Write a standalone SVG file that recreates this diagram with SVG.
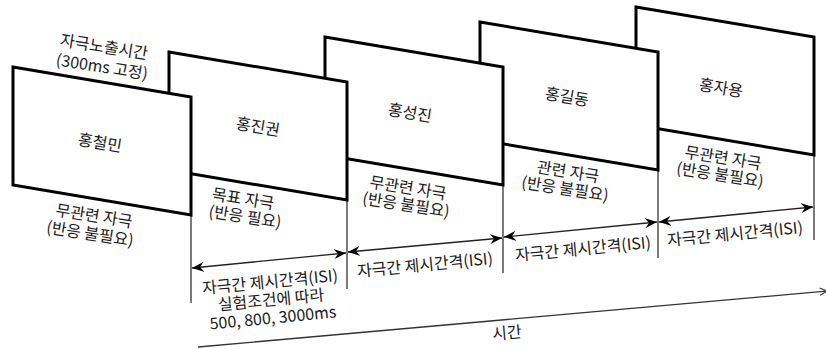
<svg xmlns="http://www.w3.org/2000/svg" xmlns:xlink="http://www.w3.org/1999/xlink" width="826" height="349" viewBox="0 0 826 349">
<defs>
<style>
.panel{fill:#fff;stroke:#000;stroke-width:3;stroke-linejoin:miter}
.t{font-family:"Noto Sans CJK KR","Noto Sans",sans-serif;font-size:16px;fill:#1a1a1a;text-anchor:middle}
.v{stroke:#333;stroke-width:1.3;fill:none}
.isi{stroke:#222;stroke-width:1.3;fill:none;marker-start:url(#ah);marker-end:url(#ah)}
.axis{stroke:#333;stroke-width:1.3;fill:none;marker-end:url(#open)}
</style>
<marker id="ah" viewBox="0 0 12 10" refX="12" refY="5" markerWidth="12" markerHeight="10" markerUnits="userSpaceOnUse" orient="auto-start-reverse">
<path d="M0,0 L12,5 L0,10 L4,5 Z" fill="#000"/>
</marker>
<marker id="open" viewBox="0 0 10 10" refX="9" refY="5" markerWidth="9" markerHeight="9" markerUnits="userSpaceOnUse" orient="auto">
<path d="M1,1 L9,5 L1,9" fill="none" stroke="#333" stroke-width="1.3"/>
</marker>
</defs>
<rect width="826" height="349" fill="#fff"/>

<g id="connectors">
<line class="v" x1="191" y1="215" x2="191" y2="303"/>
<line class="v" x1="347" y1="200" x2="347" y2="289"/>
<line class="v" x1="503" y1="185" x2="503" y2="273"/>
<line class="v" x1="658" y1="170" x2="658" y2="258"/>
<line class="v" x1="814" y1="155" x2="814" y2="240"/>
<line class="isi" x1="192" y1="268" x2="346" y2="253"/>
<line class="isi" x1="348" y1="252" x2="502" y2="238"/>
<line class="isi" x1="504" y1="237" x2="657" y2="222"/>
<line class="isi" x1="659" y1="222" x2="813" y2="207"/>
<line class="axis" x1="198" y1="347" x2="827" y2="291"/>
</g>

<g id="panel5">
<polygon class="panel" points="636,7 814,37 814,155 636,125"/>
<text class="t" transform="rotate(9.5 721 88)" x="721" y="93.5">홍자용</text>
</g>
<g id="panel4">
<polygon class="panel" points="480,22 658,52 658,170 480,140"/>
<text class="t" transform="rotate(9.5 567 97)" x="567" y="102.5">홍길동</text>
</g>
<g id="panel3">
<polygon class="panel" points="325,37 503,67 503,185 325,155"/>
<text class="t" transform="rotate(9.5 410 113)" x="410" y="118.5">홍성진</text>
</g>
<g id="panel2">
<polygon class="panel" points="169,52 347,82 347,200 169,170"/>
<text class="t" transform="rotate(9.5 258 127)" x="258" y="132.5">홍진권</text>
</g>
<g id="panel1">
<polygon class="panel" points="13,67 191,97 191,215 13,185"/>
<text class="t" transform="rotate(9.5 100 143)" x="100" y="148.5">홍철민</text>
</g>

<g id="labels">
<text class="t" transform="rotate(9 104 47)" x="104" y="52.5">자극노출시간</text>
<text class="t" transform="rotate(9 102 67)" x="102" y="72.5">(300ms 고정)</text>

<text class="t" transform="rotate(9 94 216)" x="94" y="221.5">무관련 자극</text>
<text class="t" transform="rotate(9 90 234)" x="90" y="239.5">(반응 불필요)</text>

<text class="t" transform="rotate(9 243 199)" x="243" y="204.5">목표 자극</text>
<text class="t" transform="rotate(9 245 217)" x="245" y="222.5">(반응 필요)</text>

<text class="t" transform="rotate(9 408 188)" x="408" y="193.5">무관련 자극</text>
<text class="t" transform="rotate(9 406 205)" x="406" y="210.5">(반응 불필요)</text>

<text class="t" transform="rotate(9 568 172)" x="568" y="177.5">관련 자극</text>
<text class="t" transform="rotate(9 565 189)" x="565" y="194.5">(반응 불필요)</text>

<text class="t" transform="rotate(9 723 158)" x="723" y="163.5">무관련 자극</text>
<text class="t" transform="rotate(9 720 175)" x="720" y="180.5">(반응 불필요)</text>

<text class="t" transform="rotate(-5.5 270 282)" x="270" y="287.5">자극간 제시간격(ISI)</text>
<text class="t" transform="rotate(-5.5 271 300)" x="271" y="305.5">실험조건에 따라</text>
<text class="t" transform="rotate(-5.5 273 318)" x="273" y="323.5">500, 800, 3000ms</text>

<text class="t" transform="rotate(-5.5 425 265)" x="425" y="270.5">자극간 제시간격(ISI)</text>
<text class="t" transform="rotate(-5.5 583 249)" x="583" y="254.5">자극간 제시간격(ISI)</text>
<text class="t" transform="rotate(-5.5 735 234)" x="735" y="239.5">자극간 제시간격(ISI)</text>

<text class="t" transform="rotate(-5 507 333)" x="507" y="338.5">시간</text>
</g>
</svg>
